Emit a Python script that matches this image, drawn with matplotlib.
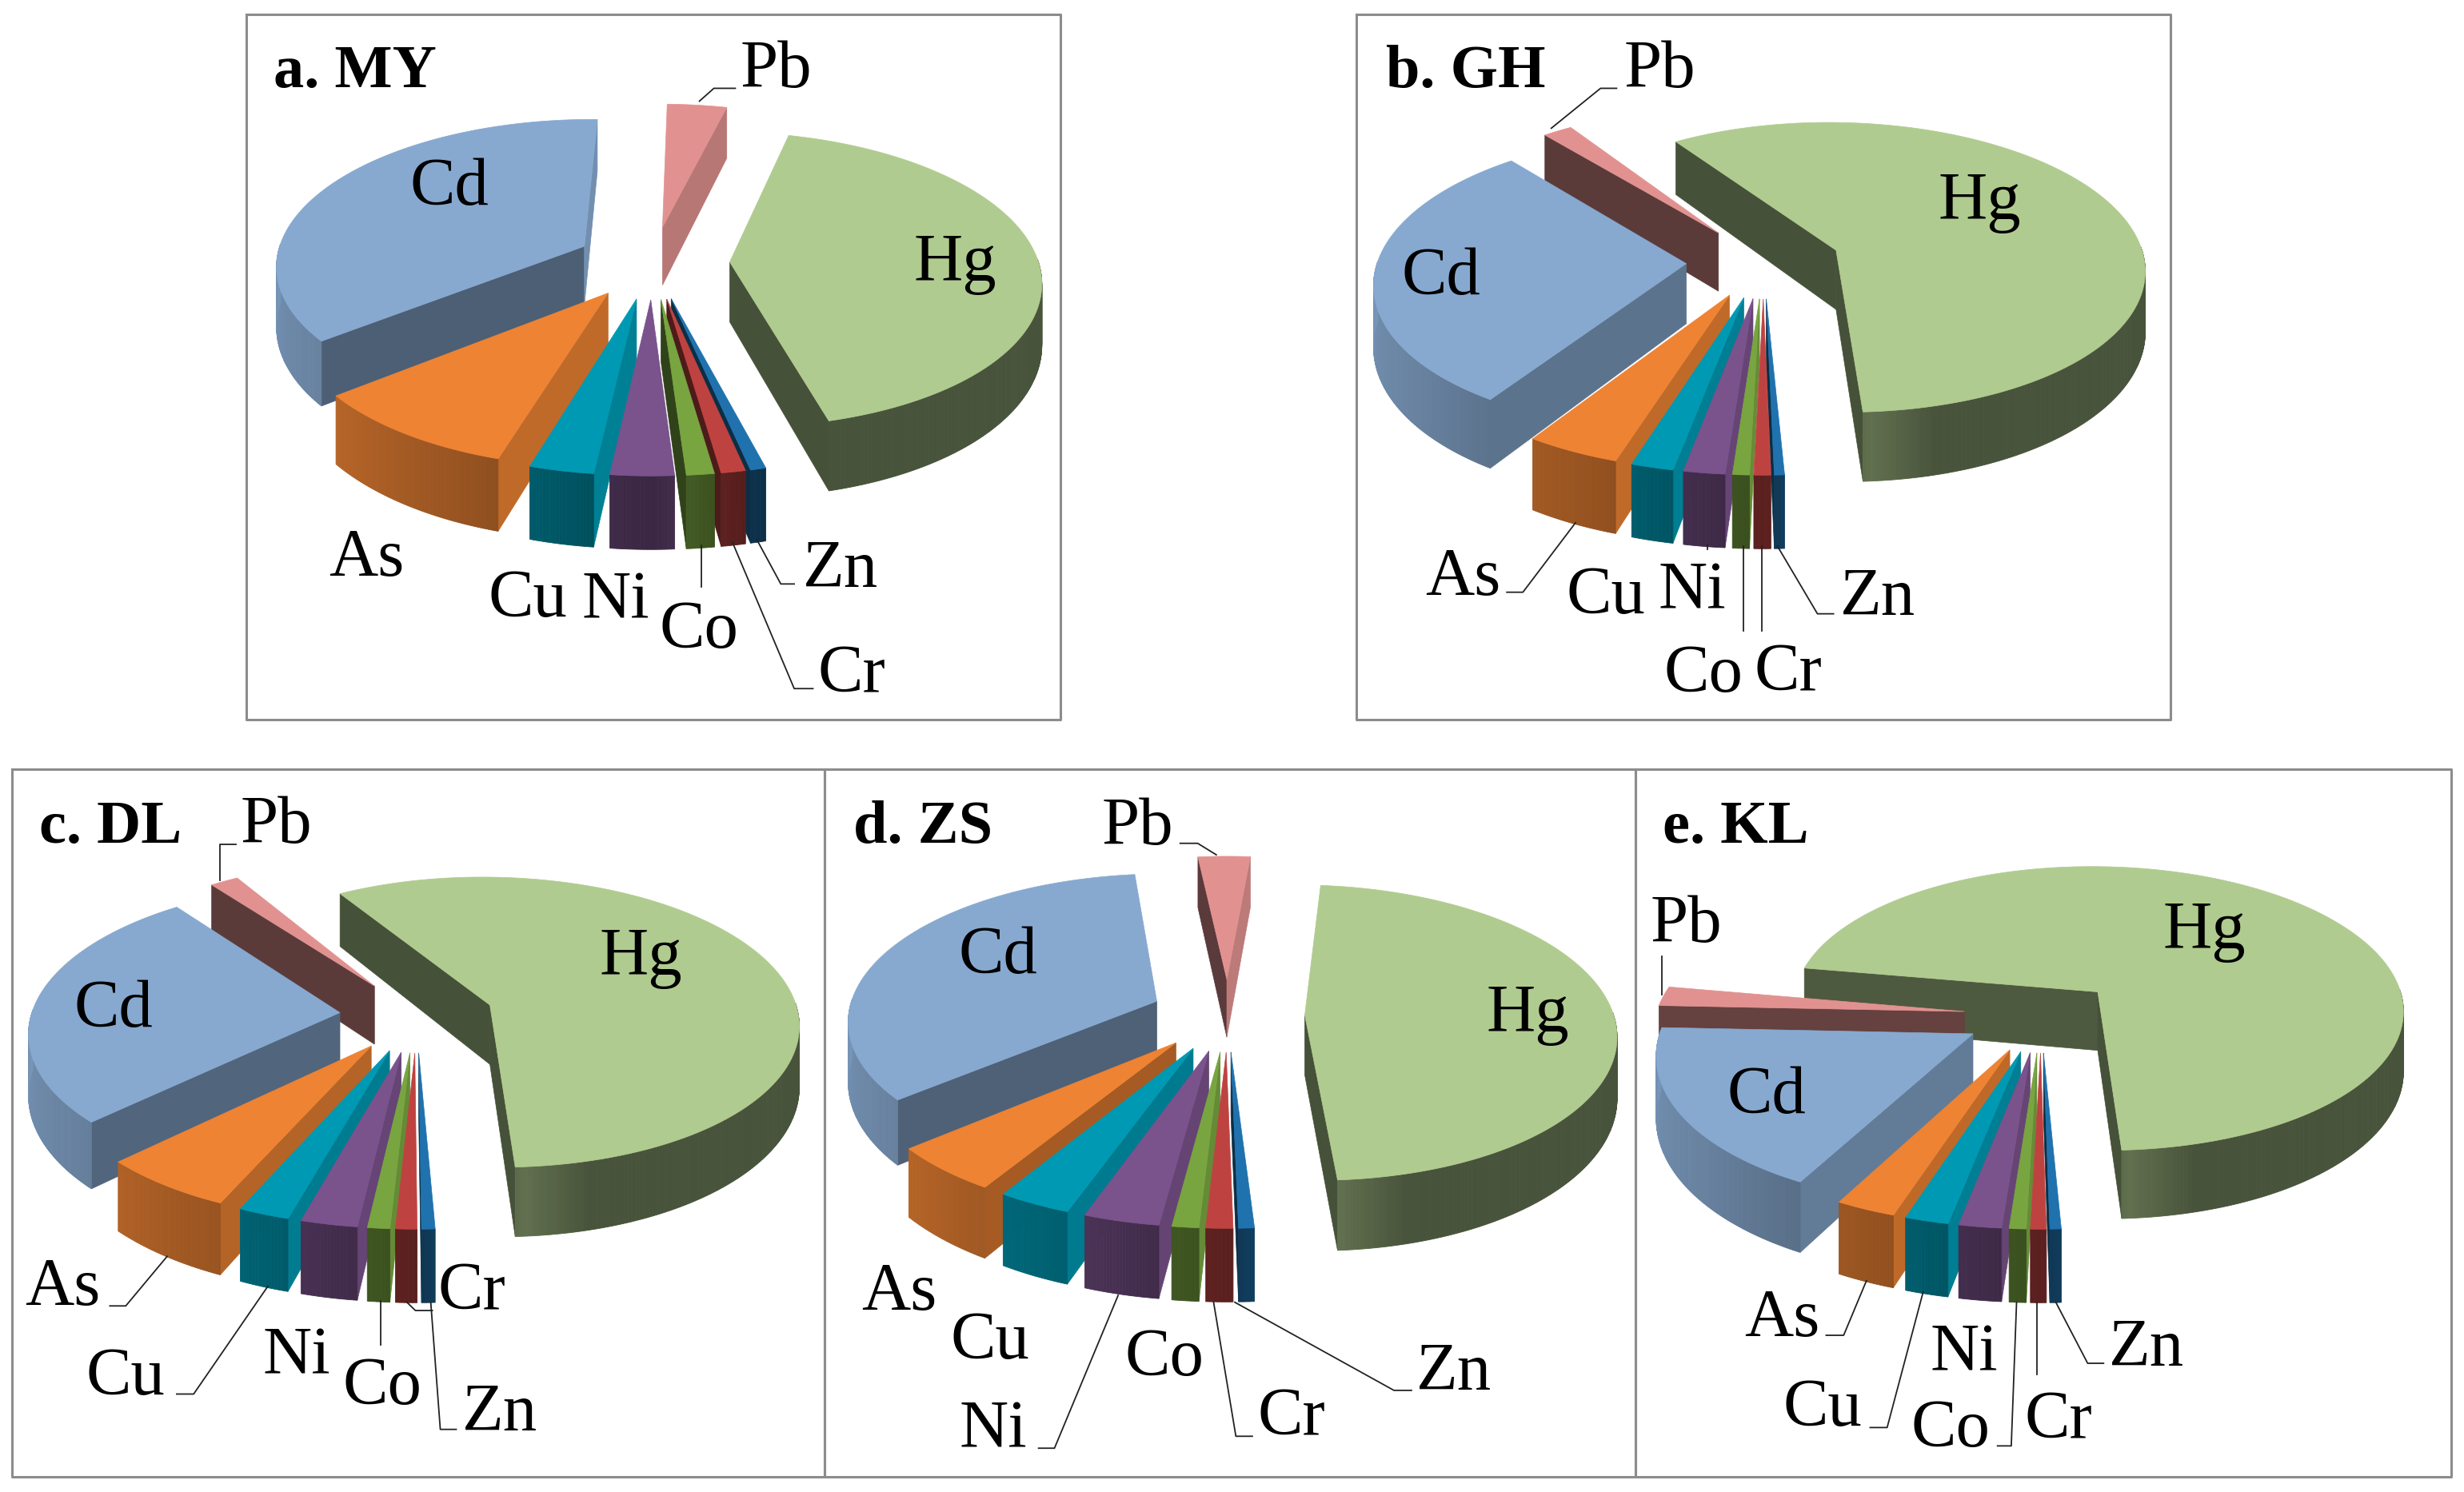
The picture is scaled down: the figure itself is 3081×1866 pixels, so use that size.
import numpy as np
import matplotlib
matplotlib.use("Agg")
import matplotlib.pyplot as plt
from matplotlib.colors import to_rgb

W, H = 3081, 1866
metals = ["Hg", "Zn", "Cr", "Co", "Ni", "Cu", "As", "Cd", "Pb"]
my = [42.0, 0.7, 1.1, 1.25, 2.85, 2.9, 9.65, 36.0, 3.55]
gh = [58.4, 0.45, 0.75, 0.75, 1.85, 1.9, 4.25, 29.7, 1.75]
dl = [57.9, 0.6, 0.95, 1.0, 2.55, 2.3, 6.1, 26.9, 1.7]
zs = [47.5, 0.7, 1.2, 1.2, 3.4, 3.3, 5.1, 34.3, 3.1]
kl = [71.1, 0.5, 0.7, 0.75, 1.9, 1.95, 2.7, 17.8, 2.1]
titles = ["a. MY", "b. GH", "c. DL", "d. ZS", "e. KL"]

colors = dict(Hg="#B0CB8F", Zn="#1F72AD", Cr="#BE4340", Co="#78A540", Ni="#7A528C",
              Cu="#0099B3", As="#EE8333", Cd="#87A9D0", Pb="#E19290")

RX, RY, EXP, KP, D0, KD = 386, 182, 0.25, 0.119, 75, 0.148


def proj(u, v, cx, cy):
    s = 1 / (1 + KP * v)
    return cx + RX * u * s, cy - RY * v * s, D0 / (1 + KD * v)


def shade(color, f):
    return tuple(min(1, c * f) for c in to_rgb(color))


def wall_factor(phi):
    return np.interp(phi % 360, [0, 90, 110, 123, 144, 180, 236, 280, 360],
                     [.85, .85, .8, .68, .55, .45, .4, .4, .85])


def arc_factor(t):
    return np.interp(t % 360, [0, 90, 165, 176, 180, 200, 230, 270, 360],
                     [.85, .41, .41, .55, .47, .62, .76, .88, .88])


def pie3d(ax, values, start, cx, cy):
    total = sum(values)
    spans = []
    a = start
    for name, val in zip(metals, values):
        b = a + val / total * 360
        spans.append((name, a, b))
        a = b
    spans.sort(key=lambda q: -np.cos(np.radians((q[1] + q[2]) / 2)))
    for name, a, b in spans:
        col = colors[name]
        mid = np.radians((a + b) / 2)
        ou, ov = EXP * np.sin(mid), EXP * np.cos(mid)
        th = np.radians(np.linspace(a, b, max(4, int(b - a) * 2)))
        U = ou + np.sin(th)
        V = ov + np.cos(th)
        X, Y, D = proj(U, V, cx, cy)
        ax0, ay0, ad0 = proj(ou, ov, cx, cy)
        for ang, inner, phi in ((a, a + 1.0, a - 90), (b, b - 1.0, b + 90)):
            r = np.radians(ang)
            px, py, pd = proj(ou + np.sin(r), ov + np.cos(r), cx, cy)
            ri = np.radians(inner)
            mx, my_, _ = proj(ou + .5 * np.sin(ri), ov + .5 * np.cos(ri), cx, cy)
            cross = (px - ax0) * (my_ - ay0) - (py - ay0) * (mx - ax0)
            visible = (cross < 0) == (px > ax0)
            if visible:
                c = shade(col, wall_factor(phi))
                ax.fill([ax0, px, px, ax0], [ay0, py, py + pd, ay0 + ad0],
                        fc=c, ec=c, lw=.5, zorder=2)
        for i in range(len(th) - 1):
            tm = np.degrees((th[i] + th[i + 1]) / 2)
            if np.cos(np.radians(tm)) < 0.02:
                c = shade(col, arc_factor(tm))
                ax.fill([X[i], X[i + 1], X[i + 1], X[i]],
                        [Y[i], Y[i + 1], Y[i + 1] + D[i + 1], Y[i] + D[i]],
                        fc=c, ec=c, lw=.6, zorder=2)
        ax.fill(np.r_[ax0, X], np.r_[ay0, Y], fc=col, ec=col, lw=.5, zorder=2)


fig = plt.figure(figsize=(W / 100, H / 100), dpi=100)
ax = fig.add_axes([0, 0, 1, 1])
ax.set_xlim(0, W)
ax.set_ylim(H, 0)
ax.axis("off")
plt.rcParams["font.family"] = ["Liberation Serif"]

GRAY = "#8C8C8C"
frames = [(308, 18, 1326, 900), (1696, 18, 2714, 900), (15, 962, 1031, 1847),
          (1031, 962, 2045, 1847), (2045, 962, 3065, 1847)]
for x0, y0, x1, y1 in frames:
    ax.plot([x0, x1, x1, x0, x0], [y0, y0, y1, y1, y0], color=GRAY, lw=2.2, zorder=1)

panels = [(my, 14, 816, 328), (gh, 326.5, 2205, 327), (dl, 329, 521, 1270),
          (zs, 5, 1535, 1269), (kl, 280, 2552, 1270)]
for vals, st, cx, cy in panels:
    pie3d(ax, vals, st, cx, cy)

S = W / 1568
title_xy = [(174, 46), (882, 46), (25, 527), (543, 527), (1058, 527)]
for t, (x, y) in zip(titles, title_xy):
    ax.text(x * S, y * S, t, fontsize=55, fontweight="bold", family="Liberation Serif",
            ha="left", va="center", color="black", zorder=5)

labels = [
    dict(Pb=(494, 45), Cd=(286, 120), Hg=(608, 168), As=(233, 356), Cu=(336, 382),
         Ni=(392, 383), Co=(445, 402), Zn=(535, 363), Cr=(542, 430)),
    dict(Pb=(1056, 45), Hg=(1260, 129), Cd=(917, 177), As=(931, 368), Cu=(1022, 380),
         Ni=(1077, 377), Co=(1084, 430), Cr=(1138, 429), Zn=(1195, 381)),
    dict(Pb=(176, 526), Hg=(408, 610), Cd=(72, 643), As=(40, 820), Cu=(80, 877),
         Ni=(189, 864), Co=(243, 883), Cr=(300, 823), Zn=(318, 900)),
    dict(Pb=(724, 527), Cd=(635, 609), Hg=(972, 646), As=(572, 823), Cu=(630, 854),
         Ni=(632, 911), Co=(741, 865), Cr=(822, 903), Zn=(925, 874)),
    dict(Pb=(1073, 589), Hg=(1403, 593), Cd=(1124, 698), As=(1134, 840), Cu=(1160, 897),
         Ni=(1250, 862), Co=(1241, 910), Cr=(1310, 905), Zn=(1366, 859)),
]
for lab in labels:
    for name, (x, y) in lab.items():
        ax.text(x * S, y * S, name, fontsize=61, family="Liberation Serif",
                ha="center", va="center", color="black", zorder=5)

leaders = [
    (300, 10, 1050, [[(858, 203), (885, 175), (925, 175)], [(862, 1170), (862, 1262)],
                     [(920, 1165), (1035, 1483), (1070, 1483)],
                     [(965, 1158), (1010, 1255), (1035, 1255)]]),
    (1700, 10, 1050, [[(358, 262), (450, 175), (480, 175)], [(403, 1122), (305, 1273), (275, 1273)],
                      [(650, 1170), (650, 1180)], [(717, 1172), (717, 1358)], [(751, 1172), (751, 1358)],
                      [(780, 1172), (855, 1320), (885, 1320)]]),
    (10, 960, 1040, [[(399, 245), (399, 167), (430, 167)], [(300, 1065), (222, 1173), (192, 1173)],
                     [(490, 1130), (350, 1365), (318, 1365)], [(702, 1162), (702, 1258)],
                     [(752, 1165), (768, 1183), (800, 1183)], [(797, 1165), (815, 1442), (845, 1442)]]),
    (1030, 960, 1040, [[(740, 190), (705, 165), (672, 165)], [(555, 1150), (435, 1483), (405, 1483)],
                       [(735, 1165), (777, 1457), (808, 1457)], [(775, 1165), (1075, 1357), (1108, 1357)]]),
    (2040, 960, 1040, [[(58, 495), (58, 412)], [(443, 1118), (400, 1237), (367, 1237)],
                       [(550, 1142), (482, 1438), (450, 1438)], [(726, 1165), (716, 1478), (690, 1478)],
                       [(765, 1165), (765, 1322)], [(800, 1165), (860, 1298), (890, 1298)]]),
]
for ox, oy, w, lines in leaders:
    for ln in lines:
        xs = [ox + p[0] * w / 1568 for p in ln]
        ys = [oy + p[1] * 900 / 1568 for p in ln]
        ax.plot(xs, ys, color="#222222", lw=1.3, zorder=4)

fig.savefig("out.png", dpi=100)
